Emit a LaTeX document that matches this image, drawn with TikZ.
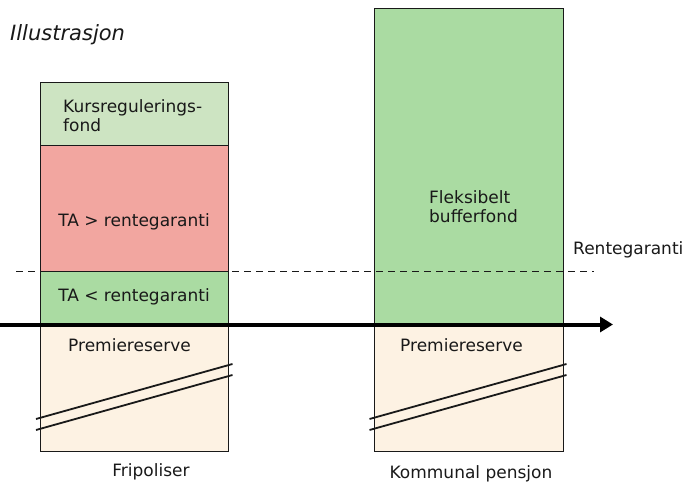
\documentclass[tikz,border=0pt]{standalone}
\usepackage{fontspec}
\setmainfont{DejaVu Sans}
\usetikzlibrary{arrows.meta}
\definecolor{kursgreen}{RGB}{205,228,194}
\definecolor{tared}{RGB}{242,166,160}
\definecolor{tagreen}{RGB}{170,219,162}
\definecolor{premie}{RGB}{253,242,227}
\definecolor{txt}{RGB}{25,25,25}
\tikzset{
  box/.style={draw=black!90, line width=1pt, anchor=north west, inner sep=0pt, minimum width=#1},
  lbl/.style={font=\fontsize{17}{19}\selectfont, text=txt, inner sep=0pt},
  slash/.style={line width=1.8pt, black!90},
}
\begin{document}
\begin{tikzpicture}[x=1pt,y=-1pt]
\useasboundingbox (0,0) rectangle (683,484);
% left column
\node[box=188pt, minimum height=63pt, fill=kursgreen] (kurs) at (40,82) {};
\node[box=188pt, minimum height=126pt, fill=tared] (tagt) at (40,145) {};
\node[box=188pt, minimum height=53pt, fill=tagreen] (talt) at (40,271) {};
\node[box=188pt, minimum height=127pt, fill=premie] (prl) at (40,324) {};
% right column
\node[box=189pt, minimum height=316pt, fill=tagreen] (flex) at (374,8) {};
\node[box=189pt, minimum height=127pt, fill=premie] (prr) at (374,324) {};
% texts
\node[lbl, font=\fontsize{21}{24}\selectfont\itshape, anchor=west] (ill) at (10,35) {Illustrasjon};
\node[lbl, align=left, anchor=west] (kurst) at (63,116) {Kursregulerings-\\fond};
\node[lbl] (tagtt) at (134,222) {TA > rentegaranti};
\node[lbl] (taltt) at (134,297) {TA < rentegaranti};
\node[lbl, anchor=west] (prlt) at (68,345) {Premiereserve};
\node[lbl, align=left, anchor=west] (flext) at (429,207) {Fleksibelt\\bufferfond};
\node[lbl, anchor=west] (prrt) at (400,345) {Premiereserve};
\node[lbl, anchor=west] (rente) at (573,250) {Rentegaranti};
\node[lbl] (frip) at (151,472) {Fripoliser};
\node[lbl] (komm) at (471,474) {Kommunal pensjon};
% dashed line
\coordinate (d1) at (16,271.5);
\coordinate (d2) at (594,271.5);
\draw[line width=1.8pt, dash pattern=on 7pt off 5pt, black!90] (d1) -- (d2);
% axis arrow
\coordinate (a1) at (0,324.5);
\coordinate (a2) at (613,324.5);
\draw[line width=4pt, -{Triangle[length=13pt,width=15pt]}] (a1) -- (a2);
% break lines
\coordinate (l1a) at (36,419); \coordinate (l1b) at (232.5,364);
\coordinate (l2a) at (36,430); \coordinate (l2b) at (232.5,375);
\draw[slash] (l1a) -- (l1b);
\draw[slash] (l2a) -- (l2b);
\coordinate (r1a) at (369.5,419); \coordinate (r1b) at (566.5,364);
\coordinate (r2a) at (369.5,430); \coordinate (r2b) at (566.5,375);
\draw[slash] (r1a) -- (r1b);
\draw[slash] (r2a) -- (r2b);
\end{tikzpicture}
\end{document}
